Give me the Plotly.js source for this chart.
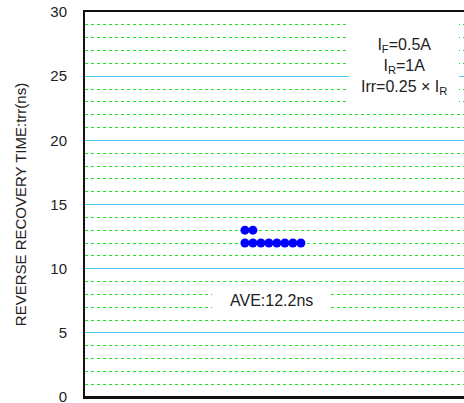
<!DOCTYPE html>
<html>
<head>
<meta charset="utf-8">
<script src="https://cdn.plot.ly/plotly-3.0.1.min.js"></script>
<style>html,body{margin:0;padding:0;background:#fff;overflow:hidden;}#chart{width:464px;height:403px;}</style>
</head>
<body>
<div id="chart"></div>
<script>
// Measured reverse recovery times (ns)
var trrValues = [13, 13, 12, 12, 12, 12, 12, 12, 12, 12];
var yTickVals = [0, 5, 10, 15, 20, 25, 30];
var yTickText = ['0', '5', '10', '15', '20', '25', '30'];
var yTitle = 'REVERSE RECOVERY TIME:trr(ns)';
var condText = 'I<sub>F</sub>=0.5A<br>I<sub>R</sub>=1A<br>Irr=0.25 × I<sub>R</sub>';
var aveText = 'AVE:12.2ns';

// stack equal values side by side (dot-plot)
var counts = {};
var xs = [];
var startX = 20;
for (var i = 0; i < trrValues.length; i++) {
  var v = trrValues[i];
  counts[v] = (counts[v] || 0);
  xs.push(startX + counts[v]);
  counts[v]++;
}

var font = 'Liberation Sans, Arial, sans-serif';
var data = [{
  x: xs, y: trrValues, type: 'scatter', mode: 'markers',
  marker: {color: '#0000ff', size: 9}, hoverinfo: 'skip'
}];
function px(x) { return (x - 85) / 379; }
function py(y) { return (397 - y) / 385; }
var layout = {
  width: 464, height: 403,
  margin: {l: 85, r: 0, t: 12, b: 6},
  paper_bgcolor: '#fff', plot_bgcolor: '#fff',
  showlegend: false,
  font: {family: font, color: '#222', size: 15},
  xaxis: {range: [0, 47.4], showticklabels: false, showgrid: false, zeroline: false,
    showline: true, mirror: true, linecolor: '#111', linewidth: 2, ticks: ''},
  yaxis: {range: [0, 30], tickvals: yTickVals, ticktext: yTickText, ticks: '',
    ticklabelstandoff: 13, ticklabeloverflow: 'allow',
    tickfont: {size: 15, color: '#222'},
    showgrid: true, gridcolor: '#44ccf5', gridwidth: 1, zeroline: false,
    showline: true, linecolor: '#111', linewidth: 2,
    minor: {dtick: 1, showgrid: true, gridcolor: '#22e022', griddash: 'dot', gridwidth: 1},
    title: {text: yTitle, font: {size: 15, color: '#222'}, standoff: 20}},
  shapes: [
    {type: 'rect', xref: 'paper', yref: 'paper', x0: px(349), x1: px(459), y0: py(107), y1: py(19),
     fillcolor: '#fff', line: {width: 0}, layer: 'above'},
    {type: 'rect', xref: 'paper', yref: 'paper', x0: px(212), x1: px(330), y0: py(314), y1: py(288),
     fillcolor: '#fff', line: {width: 0}, layer: 'above'},
    {type: 'line', xref: 'paper', yref: 'paper', x0: -0.003, x1: 1, y0: 0, y1: 0,
     line: {color: '#111', width: 2}, layer: 'above'}
  ],
  annotations: [
    {xref: 'paper', yref: 'paper', x: px(404), y: py(66),
     xanchor: 'center', yanchor: 'middle',
     text: condText, showarrow: false, align: 'center', font: {size: 16, color: '#222'}},
    {xref: 'paper', yref: 'paper', x: px(271), y: py(300),
     xanchor: 'center', yanchor: 'middle',
     text: aveText, showarrow: false, align: 'center', font: {size: 16, color: '#222'}}
  ]
};
Plotly.newPlot('chart', data, layout, {displayModeBar: false, staticPlot: true});
</script>
</body>
</html>
